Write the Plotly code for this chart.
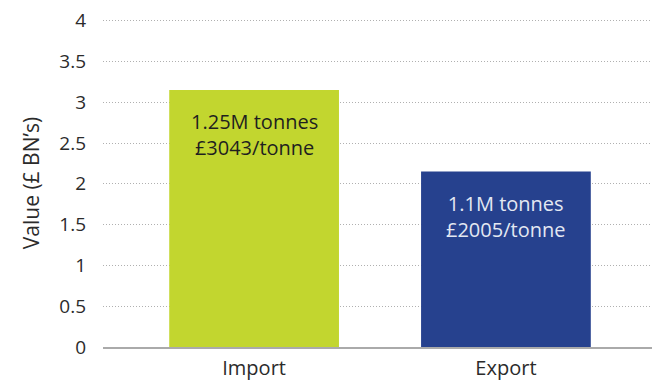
import plotly.graph_objects as go

# Trade value by direction (£ billions)
categories = ["Import", "Export"]
values = [3.15, 2.15]
volume_labels = ["1.25M tonnes", "1.1M tonnes"]
price_labels = ["£3043/tonne", "£2005/tonne"]
y_ticks = [0, 0.5, 1, 1.5, 2, 2.5, 3, 3.5, 4]
y_tick_text = ["0", "0.5", "1", "1.5", "2", "2.5", "3", "3.5", "4"]

bar_colors = ["#c2d62f", "#26418e"]
label_colors = ["#1f1f1f", "#e3e8f2"]
FONT = "'Open Sans', Lato, sans-serif"

fig = go.Figure(
    go.Bar(
        x=categories,
        y=values,
        marker=dict(color=bar_colors, line=dict(width=0)),
        width=0.674,
        hoverinfo="skip",
    )
)

# Two-line labels set just inside the top of each bar
for cat, val, vol, price, col in zip(categories, values, volume_labels, price_labels, label_colors):
    fig.add_annotation(
        x=cat, y=val, xref="x", yref="y",
        text=f"{vol}<br>{price}",
        showarrow=False,
        yanchor="top", yshift=-16,
        font=dict(family=FONT, size=20, color=col),
        align="center",
    )

fig.update_layout(
    width=652, height=387,
    margin=dict(l=103, r=0, t=19, b=40),
    paper_bgcolor="white",
    plot_bgcolor="white",
    showlegend=False,
    font=dict(family=FONT, size=18, color="#2b2b2b"),
    xaxis=dict(
        range=[-0.6, 1.58],
        showgrid=False,
        showline=True, linecolor="#aaaaaa", linewidth=2,
        ticks="", tickfont=dict(size=20, color="#2b2b2b"),
        ticklabelstandoff=2,
        fixedrange=True,
    ),
    yaxis=dict(
        range=[0, 4.02],
        tickvals=y_ticks, ticktext=y_tick_text,
        showgrid=True, gridcolor="#b0b0b0", gridwidth=1, griddash="1px,2px",
        zeroline=False, showline=False,
        ticks="", tickfont=dict(size=19, color="#2b2b2b"),
        ticklabelstandoff=16,
        title=dict(text="Value (£ BN’s)", font=dict(size=21, color="#2b2b2b"), standoff=13),
        fixedrange=True,
    ),
)

fig.write_html("out.html")
